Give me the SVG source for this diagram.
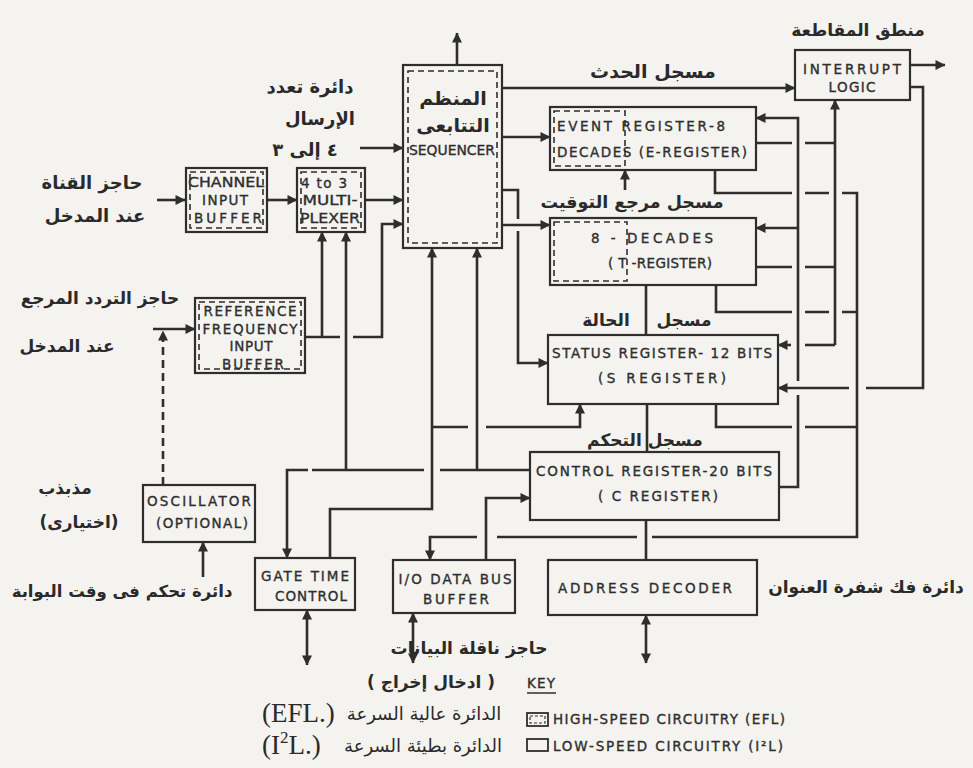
<svg xmlns="http://www.w3.org/2000/svg" width="973" height="768" viewBox="0 0 973 768">
<defs>
<marker id="ah" viewBox="0 0 10 10" refX="9.5" refY="5" markerWidth="12" markerHeight="10" markerUnits="userSpaceOnUse" orient="auto-start-reverse">
<path d="M0,0 L10,5 L0,10 z" fill="#2e2e2e"/>
</marker>
<style>
.box{fill:none;stroke:#2e2e2e;stroke-width:2.2}
.dash{fill:none;stroke:#2e2e2e;stroke-width:1.6;stroke-dasharray:6,4}
.ln{fill:none;stroke:#2e2e2e;stroke-width:2.6}
.ar{marker-end:url(#ah)}
.bi{marker-start:url(#ah);marker-end:url(#ah)}
.t{font-family:"DejaVu Sans","Liberation Sans",sans-serif;font-size:13.5px;fill:#2e2e2e;stroke:#2e2e2e;stroke-width:0.35;text-anchor:middle}
.a{font-family:"DejaVu Sans",sans-serif;font-size:17px;font-weight:bold;fill:#2a2a2a;text-anchor:middle;direction:rtl}
.c{font-family:"DejaVu Sans",sans-serif;font-size:18px;fill:#2a2a2a;text-anchor:middle;direction:rtl}
.s{font-family:"Liberation Serif",serif;font-size:27px;fill:#2a2a2a}
</style>
</defs>
<rect x="0" y="0" width="973" height="768" fill="#f4f3f0"/>

<g id="interrupt-logic">
<rect class="box" x="795" y="50" width="115" height="50"/>
<text class="t" x="852" y="74" textLength="98" lengthAdjust="spacing">INTERRUPT</text>
<text class="t" x="852" y="92" textLength="47" lengthAdjust="spacing">LOGIC</text>
</g>
<g id="sequencer">
<rect class="box" x="403" y="65" width="99" height="183"/>
<rect class="dash" x="408" y="71" width="89" height="172"/>
<text class="a" x="453" y="105" style="font-size:19px">المنظم</text>
<text class="a" x="453" y="132" style="font-size:19px">التتابعى</text>
<text class="t" x="452" y="155" textLength="86" lengthAdjust="spacingAndGlyphs">SEQUENCER</text>
</g>
<g id="event-register">
<rect class="box" x="550" y="107" width="206" height="63"/>
<rect class="dash" x="554" y="111" width="71" height="55"/>
<text class="t" x="557" y="131" style="text-anchor:start" textLength="168" lengthAdjust="spacing">EVENT REGISTER-8</text>
<text class="t" x="557" y="157" style="text-anchor:start" textLength="190" lengthAdjust="spacing">DECADES (E-REGISTER)</text>
</g>
<g id="t-register">
<rect class="box" x="550" y="218" width="206" height="67"/>
<rect class="dash" x="554" y="222" width="73" height="59"/>
<text class="t" x="652" y="243" textLength="122" lengthAdjust="spacing">8 - DECADES</text>
<text class="t" x="660" y="268" textLength="104" lengthAdjust="spacing">( T -REGISTER)</text>
</g>
<g id="status-register">
<rect class="box" x="548" y="335" width="230" height="69"/>
<text class="t" x="662" y="358" textLength="220" lengthAdjust="spacing">STATUS REGISTER- 12 BITS</text>
<text class="t" x="662" y="383" textLength="128" lengthAdjust="spacing">(S REGISTER)</text>
</g>
<g id="control-register">
<rect class="box" x="530" y="452" width="249" height="68"/>
<text class="t" x="654" y="476" textLength="236" lengthAdjust="spacing">CONTROL REGISTER-20 BITS</text>
<text class="t" x="658" y="501" textLength="120" lengthAdjust="spacing">( C REGISTER)</text>
</g>
<g id="address-decoder">
<rect class="box" x="548" y="560" width="209" height="55"/>
<text class="t" x="645" y="593" textLength="174" lengthAdjust="spacing">ADDRESS DECODER</text>
</g>
<g id="io-buffer">
<rect class="box" x="393" y="560" width="122" height="53"/>
<text class="t" x="455" y="584" textLength="113" lengthAdjust="spacing">I/O DATA BUS</text>
<text class="t" x="456" y="604" textLength="66" lengthAdjust="spacing">BUFFER</text>
</g>
<g id="gate-time-control">
<rect class="box" x="255" y="558" width="100" height="52"/>
<text class="t" x="305" y="581" textLength="88" lengthAdjust="spacing">GATE TIME</text>
<text class="t" x="311" y="601" textLength="72" lengthAdjust="spacing">CONTROL</text>
</g>
<g id="oscillator">
<rect class="box" x="143" y="485" width="112" height="57"/>
<text class="t" x="199" y="506" textLength="104" lengthAdjust="spacing">OSCILLATOR</text>
<text class="t" x="202" y="528" textLength="92" lengthAdjust="spacing">(OPTIONAL)</text>
</g>
<g id="ref-freq-buffer">
<rect class="box" x="195" y="298" width="110" height="75"/>
<rect class="dash" x="199" y="302" width="102" height="67"/>
<text class="t" x="250" y="316" textLength="93" lengthAdjust="spacing">REFERENCE</text>
<text class="t" x="250" y="334" textLength="95" lengthAdjust="spacing">FREQUENCY</text>
<text class="t" x="251" y="351" textLength="43" lengthAdjust="spacing">INPUT</text>
<text class="t" x="253" y="369" textLength="62" lengthAdjust="spacing">BUFFER</text>
</g>
<g id="channel-input-buffer">
<rect class="box" x="186" y="168" width="81" height="64"/>
<rect class="dash" x="190" y="172" width="73" height="56"/>
<text class="t" x="226" y="187" textLength="76" lengthAdjust="spacingAndGlyphs">CHANNEL</text>
<text class="t" x="225" y="205" textLength="46" lengthAdjust="spacing">INPUT</text>
<text class="t" x="228" y="223" textLength="68" lengthAdjust="spacing">BUFFER</text>
</g>
<g id="multiplexer">
<rect class="box" x="297" y="168" width="68" height="64"/>
<rect class="dash" x="301" y="172" width="60" height="56"/>
<text class="t" x="301" y="188" style="text-anchor:start" textLength="46" lengthAdjust="spacing">4 to 3</text>
<text class="t" x="330" y="205" textLength="55" lengthAdjust="spacingAndGlyphs">MULTI-</text>
<text class="t" x="330" y="223" textLength="60" lengthAdjust="spacingAndGlyphs">PLEXER</text>
</g>

<g id="connectors">
<path class="ln ar" d="M157,200 H185"/>
<path class="ln ar" d="M267,200 H297"/>
<path class="ln ar" d="M365,200 H403"/>
<path class="ln ar" d="M360,148 H403"/>
<path class="ln" d="M305,337 H340"/>
<path class="ln ar" d="M353,337 H382 V224 H403"/>
<path class="ln ar" d="M322,337 V232"/>
<path class="ln ar" d="M346,470 V232"/>
<path class="ln ar" d="M153,329 H195"/>
<path class="ln ar" d="M163,485 V331" stroke-dasharray="8,5"/>
<path class="ln ar" d="M203,577 V542"/>
<path class="ln" d="M530,470 H440 M424,470 H312"/>
<path class="ln ar" d="M308,470 H287 V558"/>
<path class="ln ar" d="M477,470 V248"/>
<path class="ln ar" d="M330,558 V509 H432 V248"/>
<path class="ln" d="M432,427 H468"/>
<path class="ln ar" d="M486,427 H580 V404"/>
<path class="ln ar" d="M502,88 H795"/>
<path class="ln ar" d="M502,137 H550"/>
<path class="ln" d="M502,190 H518 V219"/>
<path class="ln ar" d="M518,231 V363 H548"/>
<path class="ln ar" d="M502,225 H550"/>
<path class="ln ar" d="M910,65 H945"/>
<path class="ln" d="M910,87 H923 V388 H866"/>
<path class="ln ar" d="M849,388 H778"/>
<path class="ln" d="M756,143 H792 M805,143 H835 M756,267 H792 M805,267 H835"/>
<path class="ln ar" d="M835,345 V100"/>
<path class="ln" d="M835,345 H805"/>
<path class="ln ar" d="M791,345 H778"/>
<path class="ln" d="M715,170 V193 H792 M805,193 H829 M842,193 H857 V537 H652 M637,537 H497"/>
<path class="ln ar" d="M477,537 H430 V560"/>
<path class="ln" d="M716,285 V312 H792 M805,312 H829 M842,312 H857"/>
<path class="ln" d="M716,404 V427 H792 M805,427 H857"/>
<path class="ln" d="M779,487 H798 V395"/>
<path class="ln ar" d="M798,381 V118 H756"/>
<path class="ln ar" d="M798,228 H756"/>
<path class="ln" d="M646,520 V560"/>
<path class="ln bi" d="M646,615 V663"/>
<path class="ln ar" d="M486,560 V498 H530"/>
<path class="ln bi" d="M307,610 V665"/>
<path class="ln bi" d="M413,613 V663"/>
<path class="ln ar" d="M457,65 V33"/>
<path class="ln" d="M646,285 V335"/>
<path class="ln" d="M647,404 V452"/>
<path class="ln ar" d="M625,190 V170"/>
</g>

<g id="labels">
<text class="a" x="858" y="36">منطق المقاطعة</text>
<text class="a" x="653" y="78" style="font-size:19px">مسجل الحدث</text>
<text class="a" x="632" y="208" style="font-size:17.5px">مسجل مرجع التوقيت</text>
<text class="a" x="310" y="93" style="font-size:18px">دائرة تعدد</text>
<text class="a" x="320" y="125" style="font-size:18px">الإرسال</text>
<text class="a" x="305" y="156" style="font-size:18px">٤ إلى ٣</text>
<text class="a" x="92" y="189" style="font-size:18px">حاجز القناة</text>
<text class="a" x="95" y="222" style="font-size:18px">عند المدخل</text>
<text class="a" x="100" y="304">حاجز التردد المرجع</text>
<text class="a" x="67" y="352">عند المدخل</text>
<text class="a" x="684" y="326">مسجل</text>
<text class="a" x="606" y="326">الحالة</text>
<text class="a" x="645" y="446">مسجل التحكم</text>
<text class="a" x="65" y="494">مذبذب</text>
<text class="a" x="79" y="528">(اختيارى)</text>
<text class="a" x="122" y="597" style="font-size:16.5px">دائرة تحكم فى وقت البوابة</text>
<text class="a" x="866" y="593">دائرة فك شفرة العنوان</text>
<text class="a" x="469" y="654">حاجز ناقلة البيانات</text>
<text class="a" x="431" y="688">( ادخال إخراج )</text>
<text class="c" x="424" y="720">الدائرة عالية السرعة</text>
<text class="c" x="423" y="752">الدائرة بطيئة السرعة</text>
<text class="s" x="262" y="722">(EFL.)</text>
<text class="s" x="262" y="754">(I<tspan font-size="17" dy="-11">2</tspan><tspan dy="11">L.)</tspan></text>
</g>

<g id="key">
<text class="t" x="527" y="688" style="text-anchor:start" textLength="28" lengthAdjust="spacing">KEY</text>
<path class="ln" d="M527,693 H556" style="stroke-width:1.5"/>
<rect class="box" x="527" y="713" width="21" height="13" style="stroke-width:1.8"/>
<rect class="dash" x="530" y="716" width="15" height="7" style="stroke-dasharray:3,2;stroke-width:1.2"/>
<text class="t" x="553" y="724" style="text-anchor:start" textLength="232" lengthAdjust="spacing">HIGH-SPEED CIRCUITRY (EFL)</text>
<rect class="box" x="527" y="739" width="21" height="12" style="stroke-width:1.8"/>
<text class="t" x="553" y="751" style="text-anchor:start" textLength="230" lengthAdjust="spacing">LOW-SPEED CIRCUITRY (I²L)</text>
</g>
</svg>
